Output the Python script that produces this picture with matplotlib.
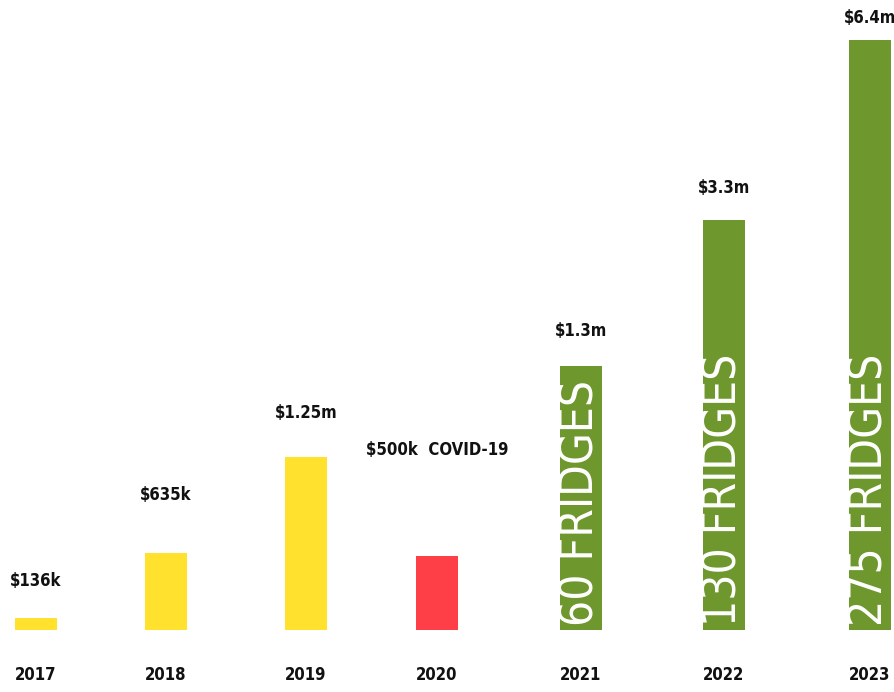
import matplotlib
matplotlib.use("Agg")
from matplotlib import pyplot as plt

years = ["2017", "2018", "2019", "2020", "2021", "2022", "2023"]
# bar heights as drawn in the infographic (not to dollar scale)
bar_heights = [12, 77, 173, 74, 264, 410, 590]
value_labels = ["$136k", "$635k", "$1.25m", "$500k  COVID-19", "$1.3m", "$3.3m", "$6.4m"]
fridge_labels = ["", "", "", "", "60 FRIDGES", "130 FRIDGES", "275 FRIDGES"]

yellow = "#FFE12E"
red = "#FF3F47"
green = "#6E972E"
colors = [yellow, yellow, yellow, red, green, green, green]

# layout in pixels
x_pos = [36, 166, 306, 437, 581, 724, 870]
label_gap = [37, 58, 44, 106, 35, 32, 22]

label_font = ["DejaVu Sans", "Liberation Sans"]
fridge_font = ["DejaVu Sans"]

fig = plt.figure(figsize=(8.95, 6.92), dpi=100)
ax = fig.add_axes([0, 0, 1, 1])

ax.bar(x_pos, bar_heights, width=42, color=colors)

for i in range(len(years)):
    ax.text(x_pos[i], bar_heights[i] + label_gap[i], value_labels[i], ha="center", va="center",
            fontsize=12, fontweight="bold", fontstretch="condensed", family=label_font,
            color="#111111")
    ax.text(x_pos[i], -45, years[i], ha="center", va="center",
            fontsize=12, fontweight="bold", fontstretch="condensed", family=label_font,
            color="#111111")
    if fridge_labels[i]:
        ax.text(x_pos[i], 4, fridge_labels[i], rotation=90, ha="center", va="bottom",
                fontsize=33, fontweight=200, fontstretch="condensed", family=fridge_font,
                color="white")

ax.set_xlim(0, 895)
ax.set_ylim(-62, 630)
ax.axis("off")

fig.savefig("out.png", dpi=100)
